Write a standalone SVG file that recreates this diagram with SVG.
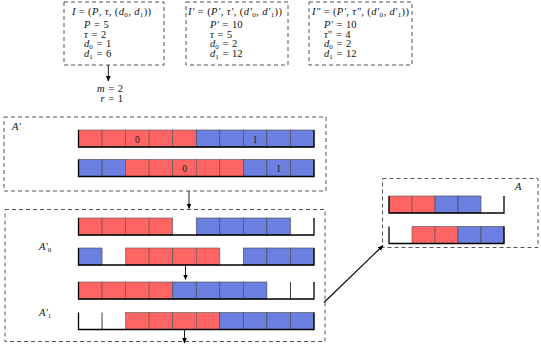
<svg xmlns="http://www.w3.org/2000/svg" width="541" height="348" viewBox="0 0 541 348" font-family="'Liberation Serif', 'DejaVu Serif', serif">
<style>
text{font-family:"Liberation Serif","DejaVu Serif",serif;fill:#111}
.t{font-size:10.5px}
.i{font-style:italic}
.s{font-size:7px}
.box{fill:none;stroke:#555;stroke-width:1;stroke-dasharray:4 3}
.r{fill:#ff6464;stroke:#555;stroke-width:0.6}
.b{fill:#6a7fe0;stroke:#444;stroke-width:0.6}
.f{fill:none;stroke:#000;stroke-width:1.3}
.d{stroke:#222;stroke-width:0.9}
.n{font-size:9.5px;text-anchor:middle}
.c{fill:none;stroke:#000;stroke-width:0.9}
</style>
<defs>
<marker id="ah" markerWidth="6" markerHeight="6" refX="5" refY="3" orient="auto" markerUnits="userSpaceOnUse">
<path d="M0,0.6 L5.5,3 L0,5.4 Z" fill="#000"/>
</marker>
</defs>

<g id="inst-I">
<rect class="box" x="64" y="2" width="100" height="63"/>
<text class="t" x="72" y="15" textLength="79" lengthAdjust="spacing"><tspan class="i">I</tspan> = (<tspan class="i">P</tspan>, <tspan class="i">τ</tspan>, (<tspan class="i">d</tspan><tspan class="s" dy="2">0</tspan><tspan dy="-2">, </tspan><tspan class="i">d</tspan><tspan class="s" dy="2">1</tspan><tspan dy="-2">))</tspan></text>
<text class="t" x="84" y="28" word-spacing="1"><tspan class="i">P</tspan> = 5</text>
<text class="t" x="84" y="37.5" word-spacing="1"><tspan class="i">τ</tspan> = 2</text>
<text class="t" x="84" y="47" word-spacing="1"><tspan class="i">d</tspan><tspan class="s" dy="2">0</tspan><tspan dy="-2"> = 1</tspan></text>
<text class="t" x="84" y="56.5" word-spacing="1"><tspan class="i">d</tspan><tspan class="s" dy="2">1</tspan><tspan dy="-2"> = 6</tspan></text>
</g>

<g id="inst-I1">
<rect class="box" x="186" y="2" width="102" height="63"/>
<text class="t" x="188" y="15" textLength="94" lengthAdjust="spacing"><tspan class="i">I′</tspan> = (<tspan class="i">P′</tspan>, <tspan class="i">τ′</tspan>, (<tspan class="i">d′</tspan><tspan class="s" dy="2">0</tspan><tspan dy="-2">, </tspan><tspan class="i">d′</tspan><tspan class="s" dy="2">1</tspan><tspan dy="-2">))</tspan></text>
<text class="t" x="210" y="28" word-spacing="1"><tspan class="i">P′</tspan> = 10</text>
<text class="t" x="210" y="37.5" word-spacing="1"><tspan class="i">τ</tspan> = 5</text>
<text class="t" x="210" y="47" word-spacing="1"><tspan class="i">d</tspan><tspan class="s" dy="2">0</tspan><tspan dy="-2"> = 2</tspan></text>
<text class="t" x="210" y="56.5" word-spacing="1"><tspan class="i">d</tspan><tspan class="s" dy="2">1</tspan><tspan dy="-2"> = 12</tspan></text>
</g>

<g id="inst-I2">
<rect class="box" x="309" y="2" width="103" height="63"/>
<text class="t" x="312" y="15" textLength="97" lengthAdjust="spacing"><tspan class="i">I″</tspan> = (<tspan class="i">P′</tspan>, <tspan class="i">τ″</tspan>, (<tspan class="i">d′</tspan><tspan class="s" dy="2">0</tspan><tspan dy="-2">, </tspan><tspan class="i">d′</tspan><tspan class="s" dy="2">1</tspan><tspan dy="-2">))</tspan></text>
<text class="t" x="324" y="28" word-spacing="1"><tspan class="i">P′</tspan> = 10</text>
<text class="t" x="324" y="37.5" word-spacing="1"><tspan class="i">τ</tspan>" = 4</text>
<text class="t" x="324" y="47" word-spacing="1"><tspan class="i">d</tspan><tspan class="s" dy="2">0</tspan><tspan dy="-2"> = 2</tspan></text>
<text class="t" x="324" y="56.5" word-spacing="1"><tspan class="i">d</tspan><tspan class="s" dy="2">1</tspan><tspan dy="-2"> = 12</tspan></text>
</g>

<g id="mr">
<text class="t" x="123" y="92" text-anchor="end" word-spacing="1"><tspan class="i">m</tspan> = 2</text>
<text class="t" x="123" y="102" text-anchor="end" word-spacing="1"><tspan class="i">r</tspan> = 1</text>
</g>

<g id="sched-Aprime">
<rect class="box" x="4" y="117" width="322" height="74"/>
<text class="t i" x="12" y="130">A′</text>
<g id="ap-row1" transform="translate(78.5,130)">
<rect class="r" x="0" y="0" width="23.55" height="17"/>
<rect class="r" x="23.55" y="0" width="23.55" height="17"/>
<rect class="r" x="47.1" y="0" width="23.55" height="17"/>
<rect class="r" x="70.65" y="0" width="23.55" height="17"/>
<rect class="r" x="94.2" y="0" width="23.55" height="17"/>
<rect class="b" x="117.75" y="0" width="23.55" height="17"/>
<rect class="b" x="141.3" y="0" width="23.55" height="17"/>
<rect class="b" x="164.85" y="0" width="23.55" height="17"/>
<rect class="b" x="188.4" y="0" width="23.55" height="17"/>
<rect class="b" x="211.95" y="0" width="23.55" height="17"/>
<path class="f" d="M0,0 V17 H235.5 V0"/>
<text class="n" x="58.9" y="12.5">0</text>
<text class="n" x="176.6" y="12.5">1</text>
</g>
<g id="ap-row2" transform="translate(78.5,159.5)">
<rect class="b" x="0" y="0" width="23.55" height="17"/>
<rect class="b" x="23.55" y="0" width="23.55" height="17"/>
<rect class="r" x="47.1" y="0" width="23.55" height="17"/>
<rect class="r" x="70.65" y="0" width="23.55" height="17"/>
<rect class="r" x="94.2" y="0" width="23.55" height="17"/>
<rect class="r" x="117.75" y="0" width="23.55" height="17"/>
<rect class="r" x="141.3" y="0" width="23.55" height="17"/>
<rect class="b" x="164.85" y="0" width="23.55" height="17"/>
<rect class="b" x="188.4" y="0" width="23.55" height="17"/>
<rect class="b" x="211.95" y="0" width="23.55" height="17"/>
<path class="f" d="M0,0 V17 H235.5 V0"/>
<text class="n" x="106" y="12.5">0</text>
<text class="n" x="200.2" y="12.5">1</text>
</g>
</g>

<g id="sched-split">
<rect class="box" x="5" y="209.5" width="320" height="132"/>
<text class="t i" x="39" y="250">A′<tspan class="s" dy="2" font-style="normal">0</tspan></text>
<text class="t i" x="39" y="316">A′<tspan class="s" dy="2" font-style="normal">1</tspan></text>
<g id="a0-row1" transform="translate(78.5,218)">
<rect class="r" x="0" y="0" width="23.55" height="17"/>
<rect class="r" x="23.55" y="0" width="23.55" height="17"/>
<rect class="r" x="47.1" y="0" width="23.55" height="17"/>
<rect class="r" x="70.65" y="0" width="23.55" height="17"/>
<rect class="b" x="117.75" y="0" width="23.55" height="17"/>
<rect class="b" x="141.3" y="0" width="23.55" height="17"/>
<rect class="b" x="164.85" y="0" width="23.55" height="17"/>
<rect class="b" x="188.4" y="0" width="23.55" height="17"/>
<path class="f" d="M0,0 V17 H235.5 V0"/>
</g>
<g id="a0-row2" transform="translate(78.5,248)">
<rect class="b" x="0" y="0" width="23.55" height="17"/>
<rect class="r" x="47.1" y="0" width="23.55" height="17"/>
<rect class="r" x="70.65" y="0" width="23.55" height="17"/>
<rect class="r" x="94.2" y="0" width="23.55" height="17"/>
<rect class="r" x="117.75" y="0" width="23.55" height="17"/>
<rect class="b" x="164.85" y="0" width="23.55" height="17"/>
<rect class="b" x="188.4" y="0" width="23.55" height="17"/>
<rect class="b" x="211.95" y="0" width="23.55" height="17"/>
<path class="f" d="M0,0 V17 H235.5 V0"/>
</g>
<g id="a1-row1" transform="translate(78.5,282)">
<rect class="r" x="0" y="0" width="23.55" height="17"/>
<rect class="r" x="23.55" y="0" width="23.55" height="17"/>
<rect class="r" x="47.1" y="0" width="23.55" height="17"/>
<rect class="r" x="70.65" y="0" width="23.55" height="17"/>
<rect class="b" x="94.2" y="0" width="23.55" height="17"/>
<rect class="b" x="117.75" y="0" width="23.55" height="17"/>
<rect class="b" x="141.3" y="0" width="23.55" height="17"/>
<rect class="b" x="164.85" y="0" width="23.55" height="17"/>
<line class="d" x1="211.95" y1="0" x2="211.95" y2="17"/>
<path class="f" d="M0,0 V17 H235.5 V0"/>
</g>
<g id="a1-row2" transform="translate(78.5,312.5)">
<rect class="r" x="47.1" y="0" width="23.55" height="17"/>
<rect class="r" x="70.65" y="0" width="23.55" height="17"/>
<rect class="r" x="94.2" y="0" width="23.55" height="17"/>
<rect class="r" x="117.75" y="0" width="23.55" height="17"/>
<rect class="b" x="141.3" y="0" width="23.55" height="17"/>
<rect class="b" x="164.85" y="0" width="23.55" height="17"/>
<rect class="b" x="188.4" y="0" width="23.55" height="17"/>
<rect class="b" x="211.95" y="0" width="23.55" height="17"/>
<line class="d" x1="23.55" y1="0" x2="23.55" y2="17"/>
<path class="f" d="M0,0 V17 H235.5 V0"/>
</g>
</g>

<g id="sched-A">
<rect class="box" x="382.5" y="178.5" width="155.5" height="69"/>
<text class="t i" x="515" y="190">A</text>
<g id="a-row1" transform="translate(389,196)">
<rect class="r" x="0" y="0" width="23" height="17"/>
<rect class="r" x="23" y="0" width="23" height="17"/>
<rect class="b" x="46" y="0" width="23" height="17"/>
<rect class="b" x="69" y="0" width="23" height="17"/>
<path class="f" d="M0,0 V17 H115 V0"/>
</g>
<g id="a-row2" transform="translate(389,226.5)">
<rect class="r" x="23" y="0" width="23" height="17"/>
<rect class="r" x="46" y="0" width="23" height="17"/>
<rect class="b" x="69" y="0" width="23" height="17"/>
<rect class="b" x="92" y="0" width="23" height="17"/>
<path class="f" d="M0,0 V17 H115 V0"/>
</g>
</g>

<g id="connectors">
<line class="c" x1="108.3" y1="65" x2="108.3" y2="81" marker-end="url(#ah)"/>
<line class="c" x1="189" y1="191" x2="189" y2="208.5" marker-end="url(#ah)"/>
<line class="c" x1="185.5" y1="265.5" x2="185.5" y2="279.5" marker-end="url(#ah)"/>
<line class="c" x1="184.5" y1="330" x2="184.5" y2="343" marker-end="url(#ah)"/>
<line class="c" x1="324" y1="302.5" x2="383" y2="245.5" marker-end="url(#ah)" style="stroke-width:1.1"/>
</g>
</svg>
